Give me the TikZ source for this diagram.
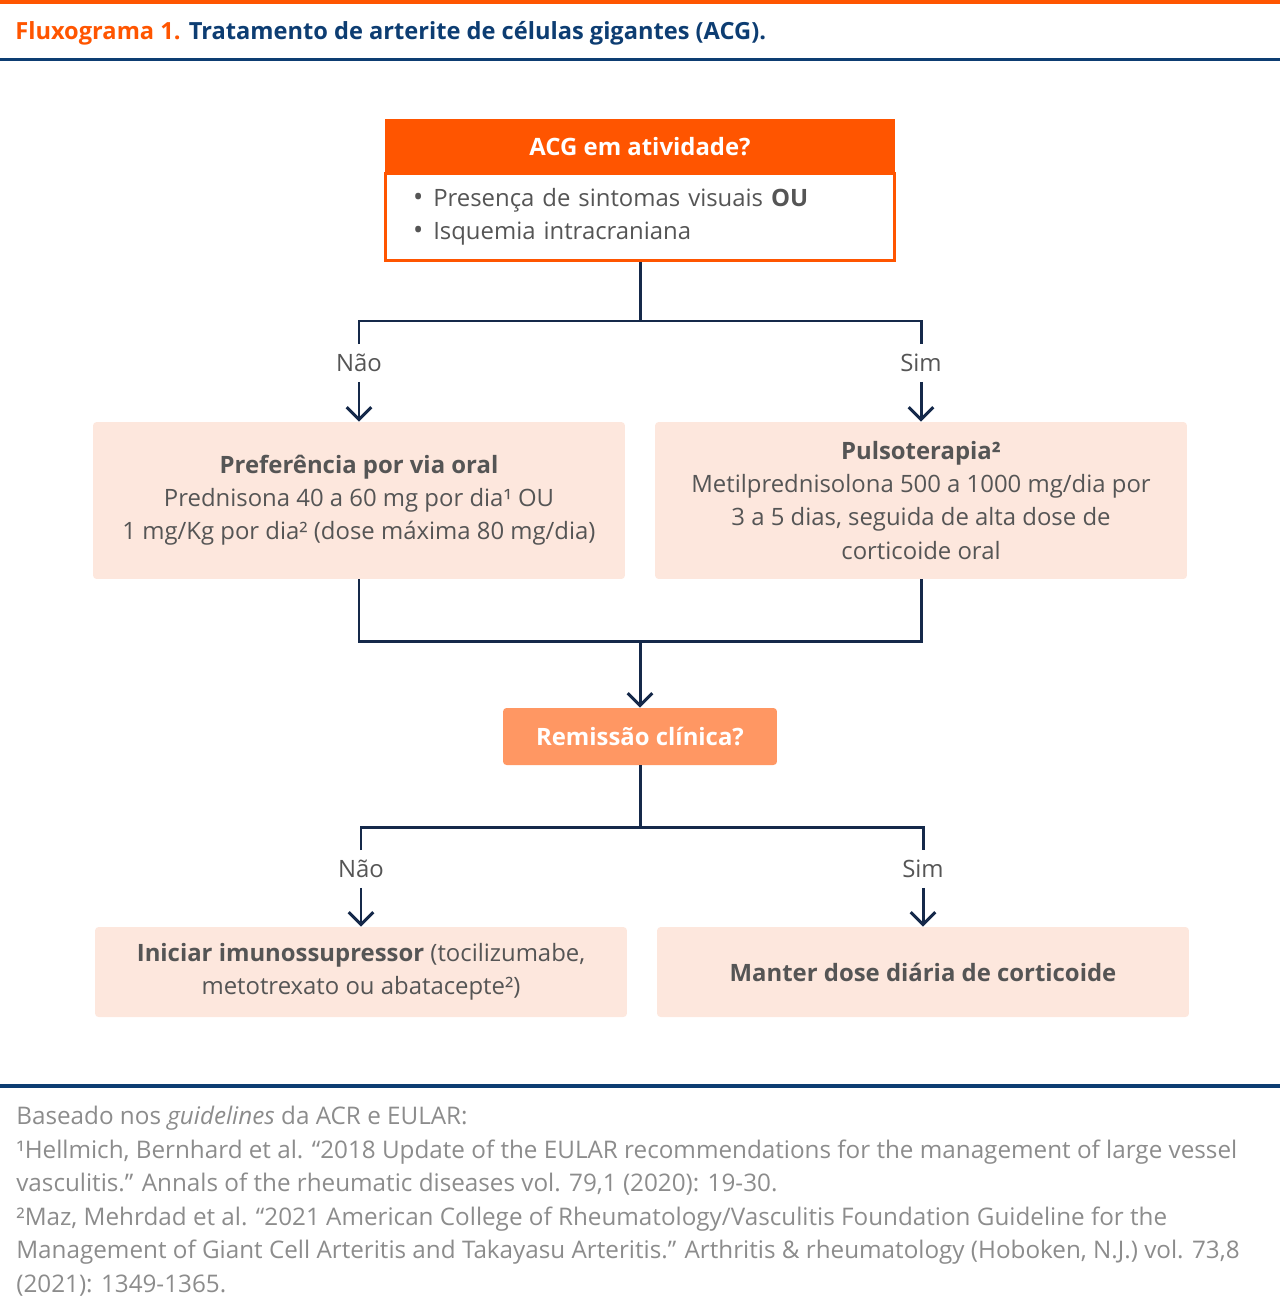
\documentclass[tikz,border=0pt]{standalone}
\usepackage{fontspec}
\setmainfont{Open Sans}
\usetikzlibrary{arrows.meta,positioning}

\definecolor{acgorange}{HTML}{FF5500}
\definecolor{acgsalmon}{HTML}{FF9763}
\definecolor{acgpale}{HTML}{FDE7DD}
\definecolor{acgnavy}{HTML}{0D3D72}
\definecolor{acgline}{HTML}{15294A}
\definecolor{acgtext}{HTML}{555555}
\definecolor{acgnote}{HTML}{8C8C8C}

\newcommand{\acgbullet}{{\fontsize{15.5}{18.8}\selectfont •}\hspace{0.2cm}}

\tikzset{
  txt/.style={font=\fontsize{13.6}{18.8}\selectfont, text=acgtext, align=center, inner sep=0pt},
  palebox/.style={txt, fill=acgpale, rounded corners=2pt, minimum width=10.64cm},
  answer/.style={txt, minimum height=0.74cm},
  link/.style={acgline, line width=1.7pt},
  arr/.style={link, -{Straight Barb[length=7pt,width=14pt]}},
}

\begin{document}
\begin{tikzpicture}[x=0.02cm,y=-0.02cm]
\useasboundingbox (0,0) rectangle (1280,1308);

% header rules and title
\fill[acgorange] (0,0) rectangle (1280,4);
\node[anchor=west, inner sep=0pt, font=\bfseries\fontsize{13.45}{16}\selectfont] (title) at (15,33)
  {\textcolor{acgorange}{Fluxograma 1.} \textcolor{acgnavy}{Tratamento de arterite de células gigantes (ACG).}};
\fill[acgnavy] (0,58) rectangle (1280,61);

% question box
\node[txt, fill=acgorange, text=white, font=\bfseries\fontsize{13.6}{18.8}\selectfont,
  minimum width=10.2cm, minimum height=1.1cm] (acg) at (640,146.5) {ACG em atividade?};
\node[txt, draw=acgorange, line width=1.7pt, fill=white, align=left, text width=9.08cm,
  inner xsep=0.56cm, minimum height=1.74cm] (crit) at (640,217)
  {\acgbullet Presença de sintomas visuais \textbf{OU}\\\acgbullet Isquemia intracraniana};

\coordinate (j1) at (640,321);
\node[answer] (nao1) at (359,363) {Não};
\node[answer] (sim1) at (921,363) {Sim};

\node[palebox, minimum height=3.14cm] (oral) at (359,500.5)
  {\textbf{Preferência por via oral}\\Prednisona 40 a 60 mg por dia¹ OU\\1 mg/Kg por dia² (dose máxima 80 mg/dia)};
\node[palebox, minimum height=3.14cm] (pulso) at (921,500.5)
  {\textbf{Pulsoterapia²}\\Metilprednisolona 500 a 1000 mg/dia por\\3 a 5 dias, seguida de alta dose de\\corticoide oral};

\draw[link] (crit.south) -- (j1);
\draw[link] (nao1.north) |- (j1) -| (sim1.north);
\draw[arr] (nao1.south) -- (oral.north);
\draw[arr] (sim1.south) -- (pulso.north);

% remission
\coordinate (j2) at (640,641);
\node[txt, fill=acgsalmon, text=white, rounded corners=2pt, font=\bfseries\fontsize{13.6}{18.8}\selectfont,
  minimum width=5.48cm, minimum height=1.14cm] (remis) at (640,736.5) {Remissão clínica?};

\draw[link] (oral.south) |- (j2) -| (pulso.south);
\draw[arr] (j2) -- (remis.north);

\coordinate (j3) at (640,827);
\node[answer] (nao2) at (361,869) {Não};
\node[answer] (sim2) at (923,869) {Sim};

\node[palebox, minimum height=1.8cm] (imuno) at (361,972)
  {\textbf{Iniciar imunossupressor} (tocilizumabe,\\metotrexato ou abatacepte²)};
\node[palebox, minimum height=1.8cm] (manter) at (923,972)
  {\textbf{Manter dose diária de corticoide}};

\draw[link] (remis.south) -- (j3);
\draw[link] (nao2.north) |- (j3) -| (sim2.north);
\draw[arr] (nao2.south) -- (imuno.north);
\draw[arr] (sim2.south) -- (manter.north);

% references
\fill[acgnavy] (0,1084) rectangle (1280,1088);
\node[txt, text=acgnote, align=left, anchor=north west, font=\fontsize{13.8}{19.05}\selectfont] (refs) at (16,1106)
  {Baseado nos \textit{guidelines} da ACR e EULAR:\\
   ¹Hellmich, Bernhard et al. “2018 Update of the EULAR recommendations for the management of large vessel\\
   vasculitis.” Annals of the rheumatic diseases vol. 79,1 (2020): 19-30.\\
   ²Maz, Mehrdad et al. “2021 American College of Rheumatology/Vasculitis Foundation Guideline for the\\
   Management of Giant Cell Arteritis and Takayasu Arteritis.” Arthritis \& rheumatology (Hoboken, N.J.) vol. 73,8\\
   (2021): 1349-1365.};
\end{tikzpicture}
\end{document}
